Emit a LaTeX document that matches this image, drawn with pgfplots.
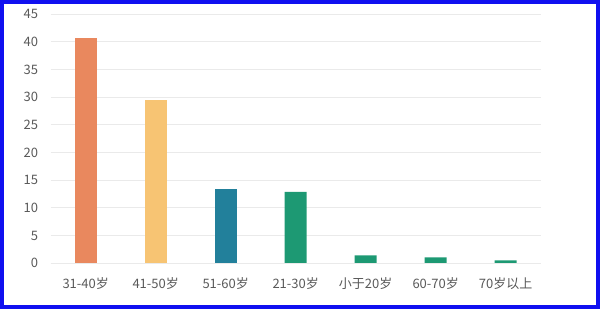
\documentclass[border=0pt]{standalone}
\usepackage{pgfplots}
\pgfplotsset{compat=1.18}
\usepackage{fontspec}
\setmainfont{Noto Sans CJK SC}
\definecolor{c1}{RGB}{233,136,94}
\definecolor{c2}{RGB}{247,196,115}
\definecolor{c3}{RGB}{34,128,155}
\definecolor{c4}{RGB}{29,153,115}
\definecolor{gridc}{RGB}{234,234,234}
\definecolor{txt}{RGB}{89,89,89}
\definecolor{frame}{RGB}{16,16,240}
\begin{document}
\begin{tikzpicture}[x=1pt,y=1pt]
\useasboundingbox (0,0) rectangle (600,309);
\begin{axis}[
  at={(50.7pt,45.7pt)}, anchor=south west,
  scale only axis, width=490pt, height=249pt,
  xmin=-0.5, xmax=6.5, ymin=0, ymax=45,
  ytick={0,5,...,45},
  xtick={0,...,6},
  xticklabels={31-40岁,41-50岁,51-60岁,21-30岁,小于20岁,60-70岁,70岁以上},
  axis line style={draw=none},
  axis x line*=bottom,
  major tick length=0pt,
  ymajorgrids, grid style={gridc, line width=1pt},
  tick label style={font=\fontsize{13}{14}\selectfont, text=txt},
  yticklabel style={xshift=-9pt},
  xticklabel style={yshift=-11pt},
  /pgf/number format/assume math mode=true,
  ybar, bar width=22pt, bar shift=0pt,
  clip=false,
]
\addplot[draw=none, fill=c1] coordinates {(0,40.7)};
\addplot[draw=none, fill=c2] coordinates {(1,29.6)};
\addplot[draw=none, fill=c3] coordinates {(2,13.4)};
\addplot[draw=none, fill=c4] coordinates {(3,12.9) (4,1.45) (5,1.08) (6,0.54)};
\draw[gridc, line width=1pt] (axis cs:-0.5,0) -- (axis cs:6.5,0);
\end{axis}
\draw[frame, line width=3.6pt] (1.8,1.8) rectangle (598.2,307.2);
\end{tikzpicture}
\end{document}
